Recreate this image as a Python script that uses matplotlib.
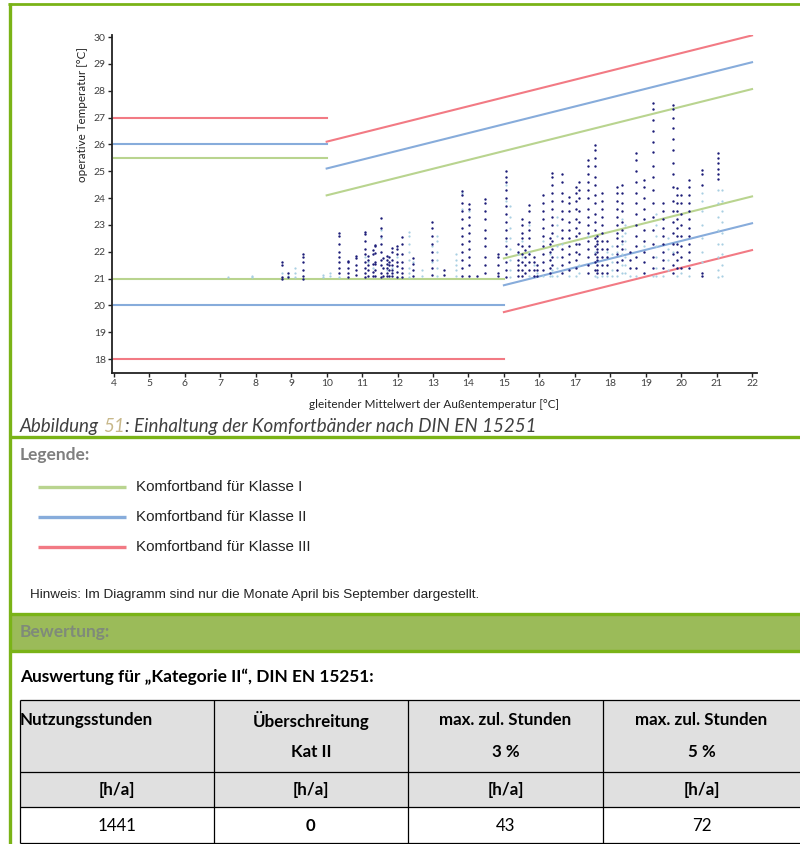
import matplotlib.pyplot as plt
from matplotlib.lines import Line2D
from matplotlib.patches import Rectangle

# ---- comfort band end points ----
band_names = ['I', 'II', 'III']
band_colors = ['#b9d48f', '#87acdb', '#f27a84']
flat_upper_x = [4, 10]
flat_lower_x = [4, 15]
slope_upper_x = [10, 22]
slope_lower_x = [15, 22]
flat_upper_y = [25.5, 26.0, 27.0]
flat_lower_y = [21.0, 20.0, 18.0]
slope_upper_y = [[24.1, 28.06], [25.1, 29.06], [26.1, 30.06]]
slope_lower_y = [[21.75, 24.06], [20.75, 23.06], [19.75, 22.06]]

# ---- hourly operative temperatures, grouped by running-mean column ----
col_x = [7.22, 7.9, 8.75, 8.9, 9.1, 9.32, 9.9, 10.1, 10.36, 10.6, 10.83, 11.07,
         11.18, 11.3, 11.36, 11.52, 11.6, 11.69, 11.77, 11.83, 11.97, 12.13,
         12.33, 12.43, 12.7, 12.96, 13.1, 13.31, 13.65, 13.81, 14.02, 14.23,
         14.47, 14.84, 15.05, 15.17, 15.39, 15.52, 15.6, 15.71, 15.84, 15.93,
         16.09, 16.29, 16.37, 16.5, 16.63, 16.84, 17.03, 17.12, 17.37, 17.57,
         17.62, 17.76, 17.9, 18.05, 18.18, 18.33, 18.42, 18.55, 18.72, 18.94,
         19.22, 19.3, 19.5, 19.62, 19.76, 19.88, 20.0, 20.22, 20.6, 21.05, 21.15]
dark_y = [
    [], [], [21.6, 21.5, 21.05, 21.0], [21.2, 21.05], [],
    [21.9, 21.8, 21.6, 21.3, 21.1, 21.0], [], [],
    [22.68, 22.6, 22.3, 22.0, 21.8, 21.6, 21.4, 21.2],
    [21.66, 21.6, 21.4, 21.2, 21.05],
    [21.84, 21.75, 21.5, 21.3, 21.15],
    [22.74, 22.65, 22.4, 22.1, 21.9, 21.6, 21.4, 21.2, 21.05],
    [21.85, 21.7, 21.5, 21.3, 21.1],
    [22.05, 21.9, 21.55, 21.25, 21.1],
    [22.25, 22.2, 21.95, 21.6, 21.55, 21.3, 21.1],
    [23.25, 22.9, 22.6, 22.3, 22.0, 21.7, 21.5, 21.2, 21.05],
    [21.75, 21.4, 21.1],
    [21.85, 21.7, 21.55, 21.4, 21.2, 21.1],
    [21.8, 21.6, 21.5, 21.3, 21.1],
    [22.13, 22.0, 21.7, 21.5, 21.3, 21.2, 21.1],
    [22.2, 22.1, 21.9, 21.6, 21.45, 21.25, 21.05],
    [22.55, 22.3, 21.9, 21.6, 21.4, 21.2, 21.05],
    [],
    [21.75, 21.55, 21.3, 21.1],
    [],
    [23.1, 22.9, 22.6, 22.3, 22.0, 21.7, 21.4, 21.15],
    [],
    [21.3, 21.15],
    [],
    [24.27, 24.1, 23.8, 23.5, 23.2, 22.9, 22.6, 22.3, 22.0, 21.7, 21.4, 21.1],
    [23.78, 23.6, 23.3, 23.0, 22.7, 22.4, 22.1, 21.8, 21.5, 21.1],
    [21.1],
    [23.95, 23.8, 23.5, 23.2, 22.8, 22.5, 22.2, 21.8, 21.5, 21.2],
    [21.9, 21.8, 21.5, 21.2, 21.1],
    [25.0, 24.8, 24.6, 24.3, 24.0, 23.7, 23.4, 23.1, 22.8, 22.5, 22.2, 21.9, 21.6, 21.3, 21.05],
    [],
    [22.3, 22.0, 21.7, 21.5, 21.3, 21.1],
    [23.2, 23.0, 22.7, 22.5, 22.2, 21.9, 21.6, 21.3, 21.1],
    [22.05, 21.8, 21.5, 21.2],
    [23.74, 23.5, 23.1, 22.8, 22.5, 22.2, 21.9, 21.6, 21.3],
    [21.8, 21.6, 21.3, 21.1],
    [21.5, 21.3, 21.1],
    [24.1, 23.8, 23.5, 23.2, 22.9, 22.6, 22.2, 21.9, 21.6, 21.3],
    [22.5, 22.3, 22.0, 21.7, 21.4, 21.2],
    [24.92, 24.8, 24.5, 24.2, 23.9, 23.6, 23.3, 23.0, 22.7, 22.4, 22.1, 21.8, 21.5],
    [],
    [24.9, 24.6, 24.2, 23.9, 23.5, 23.2, 22.8, 22.5, 22.1, 21.8, 21.5, 21.2],
    [24.05, 23.8, 23.5, 23.1, 22.8, 22.5, 22.2, 21.9, 21.6, 21.3],
    [24.4, 24.2, 23.9, 23.6, 23.2, 22.9, 22.6, 22.3, 22.0, 21.7, 21.4],
    [24.6, 24.3, 24.0, 23.5, 23.1, 22.7, 22.3, 21.9],
    [25.4, 25.2, 24.9, 24.6, 24.3, 24.0, 23.6, 23.3, 23.0, 22.7, 22.4, 22.1, 21.8, 21.5, 21.2],
    [25.97, 25.8, 25.5, 25.2, 24.8, 24.5, 24.1, 23.8, 23.4, 23.1, 22.8, 22.5, 22.2, 21.9, 21.6, 21.3],
    [22.6, 22.4, 22.3, 22.1, 22.0, 21.8, 21.7, 21.5, 21.3, 21.2],
    [24.17, 23.9, 23.6, 23.3, 23.0, 22.7, 22.4, 22.1, 21.8, 21.5, 21.2],
    [22.4, 22.1, 21.8, 21.5, 21.2],
    [],
    [24.42, 24.2, 23.9, 23.6, 23.3, 23.0, 22.7, 22.5, 22.2, 21.9, 21.6, 21.3],
    [24.48, 24.2, 23.8, 23.5, 23.1, 22.8, 22.4, 22.1, 21.7],
    [],
    [22.0, 21.7, 21.4],
    [25.66, 25.4, 25.0, 24.6, 24.2, 23.8, 23.4, 23.0, 22.6, 22.2, 21.8, 21.4],
    [24.67, 24.4, 24.0, 23.6, 23.2, 22.8, 22.4, 22.0, 21.6, 21.2],
    [27.53, 27.3, 26.9, 26.5, 26.1, 25.7, 25.2, 24.8, 24.3, 23.8, 23.3, 22.8, 22.3, 21.8, 21.4],
    [],
    [23.8, 23.5, 23.2, 22.9, 22.6, 22.3, 22.0, 21.7, 21.4],
    [],
    [27.47, 27.3, 27.0, 26.6, 26.2, 25.8, 25.3, 24.9, 24.4, 23.9, 23.5, 23.1, 22.7, 22.3, 21.9, 21.5, 21.2],
    [24.36, 24.1, 23.8, 23.5, 23.2, 22.9, 22.6, 22.3, 22.0, 21.7, 21.4],
    [24.1, 23.8, 23.4, 23.0, 22.6, 22.2, 21.8, 21.4],
    [24.67, 24.4, 24.1, 23.8, 23.5, 23.2, 22.9, 22.6, 22.3, 22.0, 21.7, 21.4],
    [25.04, 24.9, 24.5, 21.2, 21.1],
    [25.66, 25.5, 25.3, 25.1, 24.9, 24.7],
    [],
]
light_y = [
    [21.05], [21.1, 21.05], [21.2], [21.1], [21.4, 21.2, 21.05], [],
    [21.15, 21.05], [21.2, 21.1], [21.05], [], [], [21.8], [21.6], [21.4], [],
    [22.8, 22.5], [], [21.3], [], [21.4], [21.8], [],
    [22.72, 22.6, 22.3, 22.0, 21.7, 21.4, 21.2, 21.05],
    [21.6], [21.3, 21.1], [22.2, 21.6],
    [22.6, 22.4, 22.0, 21.7, 21.4, 21.1], [],
    [21.9, 21.7, 21.5, 21.3, 21.1], [24.2, 23.6], [23.5], [], [], [],
    [24.5, 23.9, 22.4],
    [23.7, 23.3, 22.9, 22.5, 22.1, 21.7, 21.3, 21.05],
    [21.9], [22.4, 21.8], [], [23.0, 22.0, 21.1], [21.5], [21.2],
    [22.4, 21.1], [21.9, 21.1], [21.3, 21.1],
    [23.3, 23.0, 22.6, 22.2, 21.8, 21.4, 21.1],
    [22.3], [21.1], [21.1], [21.5, 21.2], [22.6], [22.0, 21.1], [21.05],
    [21.1], [22.0, 21.1], [22.2, 21.9, 21.6, 21.3, 21.1], [22.0, 21.1],
    [23.2, 22.6, 22.3, 21.9, 21.5, 21.2],
    [23.0, 22.7, 22.4, 22.1, 21.8, 21.5, 21.2],
    [21.1], [21.1], [22.2], [21.1],
    [23.4, 23.0, 22.6, 22.2, 21.8, 21.4, 21.1],
    [21.1], [22.5, 22.1, 21.7, 21.3], [22.0], [21.1], [21.2], [21.1],
    [24.2, 23.9, 23.5, 23.0, 22.5, 22.0, 21.6],
    [24.3, 23.8, 23.3, 22.8, 22.3, 21.8, 21.3, 21.05],
    [24.3, 23.9, 23.5, 23.1, 22.7, 22.3, 21.9, 21.5, 21.1],
]

# ---- table ----
table_head1 = ['Nutzungsstunden', 'Überschreitung', 'max. zul. Stunden', 'max. zul. Stunden']
table_head2 = ['', 'Kat II', '3 %', '5 %']
table_units = ['[h/a]', '[h/a]', '[h/a]', '[h/a]']
table_values = ['1441', '0', '43', '72']

legend_labels = ['Komfortband für Klasse I', 'Komfortband für Klasse II',
                 'Komfortband für Klasse III']

W, H = 800, 844
GREEN = '#7ab317'


def fx(px):
    return px / W


def fy(py):
    return 1 - py / H


fig = plt.figure(figsize=(W / 100, H / 100), dpi=100)


def hline(x0, x1, y, color, lw):
    fig.add_artist(Line2D([fx(x0), fx(x1)], [fy(y), fy(y)], color=color, lw=lw,
                          transform=fig.transFigure, solid_capstyle='butt'))


def vline(x, y0, y1, color, lw):
    fig.add_artist(Line2D([fx(x), fx(x)], [fy(y0), fy(y1)], color=color, lw=lw,
                          transform=fig.transFigure, solid_capstyle='butt'))


def box(x0, y0, x1, y1, color):
    fig.add_artist(Rectangle((fx(x0), fy(y1)), fx(x1) - fx(x0), fy(y0) - fy(y1),
                             facecolor=color, edgecolor='none',
                             transform=fig.transFigure))


# ---- chart ----
ax = fig.add_axes([fx(112), fy(373), fx(757) - fx(112), fy(35) - fy(373)])
for i in range(3):
    c = band_colors[i]
    ax.plot(flat_upper_x, [flat_upper_y[i]] * 2, color=c, lw=1.5)
    ax.plot(flat_lower_x, [flat_lower_y[i]] * 2, color=c, lw=1.5)
    ax.plot(slope_upper_x, slope_upper_y[i], color=c, lw=1.5)
    ax.plot(slope_lower_x, slope_lower_y[i], color=c, lw=1.5)

lx, ly, dx, dy = [], [], [], []
for x, dys, lys in zip(col_x, dark_y, light_y):
    dx += [x] * len(dys)
    dy += dys
    lx += [x] * len(lys)
    ly += lys
ax.scatter(lx, ly, s=2.6, color='#a9cfe2', linewidths=0, zorder=3)
ax.scatter(dx, dy, s=3.0, color='#1c1c78', linewidths=0, zorder=4)

ax.set_xlim(3.944, 22.14)
ax.set_ylim(17.48, 30.075)
ax.set_xticks(range(4, 23))
ax.set_yticks(range(18, 31))
for s in ['top', 'right']:
    ax.spines[s].set_visible(False)
for s in ['left', 'bottom']:
    ax.spines[s].set_linewidth(1.3)
    ax.spines[s].set_color('#222222')
ax.tick_params(direction='out', length=3, width=1, colors='#222222',
               labelcolor='#404040', labelsize=7.5, pad=1.5)
for lab in ax.get_xticklabels() + ax.get_yticklabels():
    lab.set_family('Lato')

fig.text(fx(82), fy(115), 'operative Temperatur [°C]', rotation=90,
         ha='center', va='center', fontsize=8.4, family='Lato', color='#222222')
fig.text(fx(434), fy(405), 'gleitender Mittelwert der Außentemperatur [°C]',
         ha='center', va='center', fontsize=8.5, family='Lato', color='#222222')

# ---- caption with coloured figure number ----
renderer = fig.canvas.get_renderer()
cx = fx(20)
for piece, col in [('Abbildung ', '#404040'), ('51', '#c8b88a'),
                   (': Einhaltung der Komfortbänder nach DIN EN 15251', '#404040')]:
    t = fig.text(cx, fy(426), piece, ha='left', va='center', fontsize=13.5,
                 family='Lato', style='italic', color=col)
    bb = t.get_window_extent(renderer)
    cx = bb.x1 / W

# ---- frame lines ----
hline(8, 800, 4, GREEN, 2)
vline(9.5, 3, 844, GREEN, 2.4)
hline(9, 800, 437, GREEN, 2.4)
box(9, 613, 800, 650, '#9bbb59')
hline(9, 800, 613.5, GREEN, 2.4)
hline(9, 800, 650.5, GREEN, 2.4)

# ---- legend block ----
fig.text(fx(20), fy(455), 'Legende:', ha='left', va='center', fontsize=12.5,
         family='Lato', weight='bold', color='#7f7f7f')
for i, (lab, col) in enumerate(zip(legend_labels, band_colors)):
    yy = 487 + i * 30
    hline(38, 126, yy, col, 2.4)
    fig.text(fx(136), fy(yy), lab, ha='left', va='center', fontsize=10.9,
             family='Liberation Sans', color='#222222')
fig.text(fx(30), fy(595),
         'Hinweis: Im Diagramm sind nur die Monate April bis September dargestellt.',
         ha='left', va='center', fontsize=9.7, family='Liberation Sans',
         color='#222222')

fig.text(fx(20), fy(632), 'Bewertung:', ha='left', va='center', fontsize=12.5,
         family='Lato', weight='bold', color='#7f8a7a')
fig.text(fx(20), fy(677), 'Auswertung für „Kategorie II“, DIN EN 15251:',
         ha='left', va='center', fontsize=12.4, family='Lato', weight='bold',
         color='black')

# ---- table ----
col_edges = [20, 214, 408, 603, 800]
row_edges = [700, 772, 807, 843]
box(20, 700, 800, 807, '#e0e0e0')
for y in row_edges:
    hline(20, 800, y, 'black', 0.9)
for x in col_edges[:-1]:
    vline(x, 700, 843, 'black', 0.9)
tsize = 12.2
for j in range(4):
    x0, x1 = col_edges[j], col_edges[j + 1]
    xc = (x0 + x1) / 2
    if j == 0:
        fig.text(fx(20), fy(720), table_head1[j], ha='left', va='center',
                 fontsize=tsize, family='Lato', weight='bold')
    else:
        fig.text(fx(xc), fy(720), table_head1[j], ha='center', va='center',
                 fontsize=tsize, family='Lato', weight='bold')
    fig.text(fx(xc), fy(752), table_head2[j], ha='center', va='center',
             fontsize=tsize, family='Lato', weight='bold')
    fig.text(fx(xc), fy(790), table_units[j], ha='center', va='center',
             fontsize=tsize, family='Lato', weight='bold')
    fig.text(fx(xc), fy(826), table_values[j], ha='center', va='center',
             fontsize=tsize, family='Lato',
             weight='bold' if j == 1 else 'normal')

fig.savefig('out.png', dpi=100)
